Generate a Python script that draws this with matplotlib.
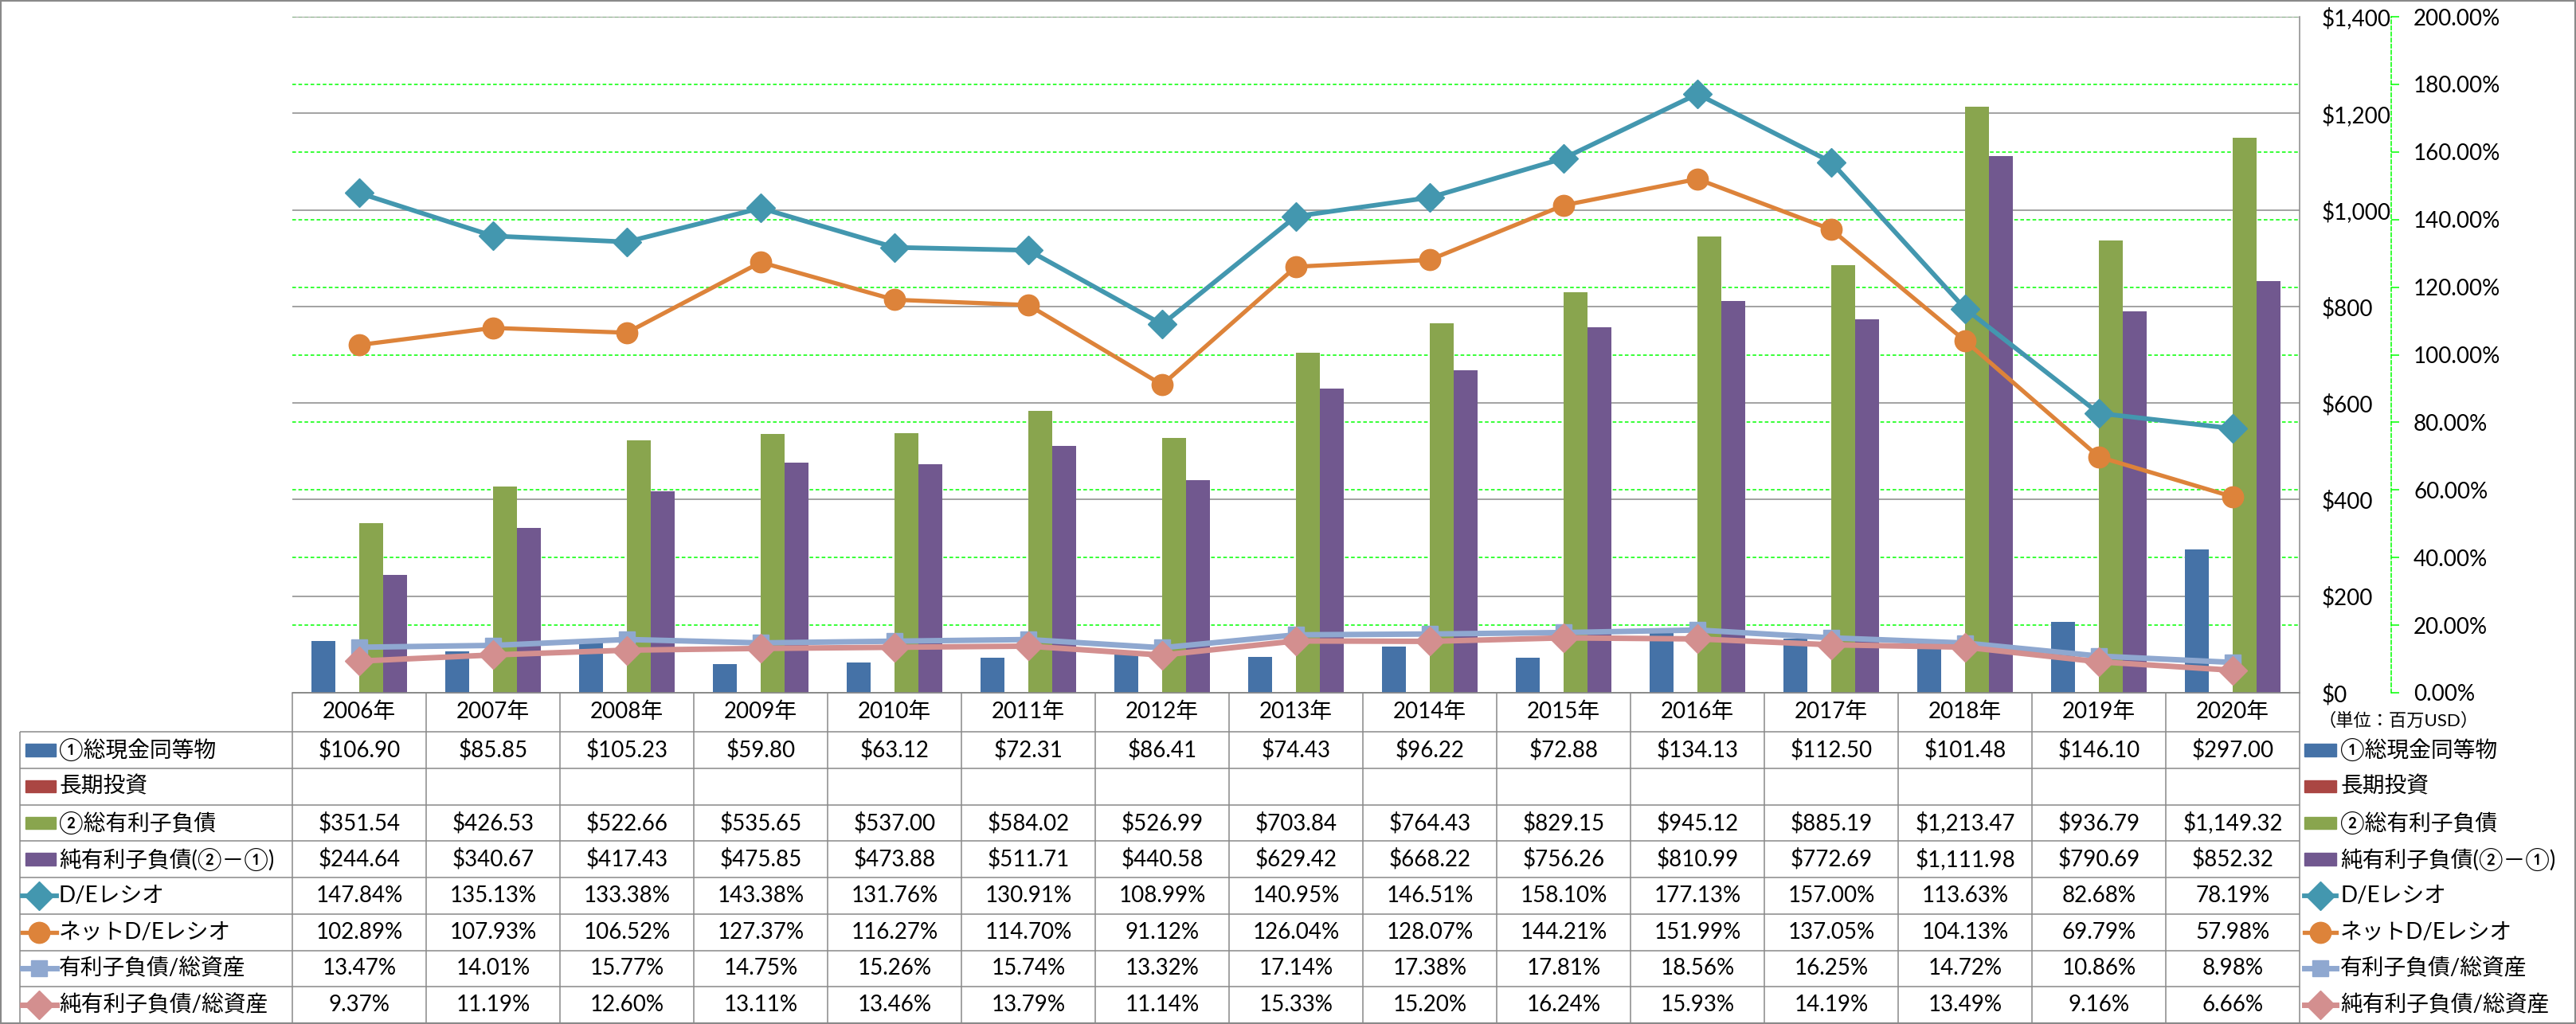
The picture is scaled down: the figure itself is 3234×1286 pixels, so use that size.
import numpy as np
import matplotlib
matplotlib.use("Agg")
import matplotlib.pyplot as plt
from matplotlib.patches import Rectangle
from matplotlib.lines import Line2D

plt.rcParams['font.family'] = ['Lato', 'Noto Sans CJK JP']

# ---- data ----
years = ['2006年', '2007年', '2008年', '2009年', '2010年', '2011年', '2012年', '2013年',
         '2014年', '2015年', '2016年', '2017年', '2018年', '2019年', '2020年']
cash = [106.90, 85.85, 105.23, 59.80, 63.12, 72.31, 86.41, 74.43, 96.22, 72.88,
        134.13, 112.50, 101.48, 146.10, 297.00]
long_inv = [np.nan] * 15
debt = [351.54, 426.53, 522.66, 535.65, 537.00, 584.02, 526.99, 703.84, 764.43, 829.15,
        945.12, 885.19, 1213.47, 936.79, 1149.32]
net_debt = [244.64, 340.67, 417.43, 475.85, 473.88, 511.71, 440.58, 629.42, 668.22, 756.26,
            810.99, 772.69, 1111.98, 790.69, 852.32]
de_ratio = [147.84, 135.13, 133.38, 143.38, 131.76, 130.91, 108.99, 140.95, 146.51, 158.10,
            177.13, 157.00, 113.63, 82.68, 78.19]
net_de = [102.89, 107.93, 106.52, 127.37, 116.27, 114.70, 91.12, 126.04, 128.07, 144.21,
          151.99, 137.05, 104.13, 69.79, 57.98]
debt_assets = [13.47, 14.01, 15.77, 14.75, 15.26, 15.74, 13.32, 17.14, 17.38, 17.81,
               18.56, 16.25, 14.72, 10.86, 8.98]
netdebt_assets = [9.37, 11.19, 12.60, 13.11, 13.46, 13.79, 11.14, 15.33, 15.20, 16.24,
                  15.93, 14.19, 13.49, 9.16, 6.66]

bar_names = ['①総現金同等物', '長期投資', '②総有利子負債', '純有利子負債(②－①)']
line_names = ['D/Eレシオ', 'ネットD/Eレシオ', '有利子負債/総資産', '純有利子負債/総資産']

# ---- styles ----
bar_colors = ['#4572A7', '#AA4643', '#89A54E', '#71588F']
line_colors = ['#4397AF', '#DD833A', '#8FA8D0', '#D38F8F']
line_markers = ['D', 'o', 's', 'D']
marker_sizes = [18, 19, 14, 18]
line_widths = [4.2, 3.8, 5.0, 5.0]
GRAY = '#898989'
GREEN = '#00FF00'
FS = 20

W, H = 3234, 1286
fig = plt.figure(figsize=(W / 100, H / 100), dpi=100)
fig.patch.set_facecolor('white')

def px(x0, y0, x1, y1):
    return [x0 / W, 1 - y1 / H, (x1 - x0) / W, (y1 - y0) / H]

x = np.arange(len(years))

ax = fig.add_axes(px(367, 21, 2887, 870))
axg = ax.twinx()
axl = ax.twinx()
axg.set_zorder(0)
ax.set_zorder(1)
axl.set_zorder(2)
ax.patch.set_visible(False)
axl.patch.set_visible(False)

# green percent grid (behind bars)
axg.set_ylim(0, 200)
axg.set_yticks(np.arange(0, 201, 20))
axg.yaxis.grid(True, color=GREEN, linestyle=(0, (3, 2)), linewidth=1.1)
axg.tick_params(axis='both', which='both', left=False, right=False,
                labelleft=False, labelright=False, bottom=False, labelbottom=False)
for s in axg.spines.values():
    s.set_visible(False)

# bars on $ axis
bw = 0.18
offs = [-0.27, -0.09, 0.09, 0.27]
for vals, off, c in zip([cash, long_inv, debt, net_debt], offs, bar_colors):
    ax.bar(x + off, vals, width=bw, color=c, zorder=2)
ax.set_xlim(-0.5, len(years) - 0.5)
ax.set_ylim(0, 1400)
ax.set_yticks(np.arange(0, 1401, 200))
ax.set_yticklabels([f'${v:,.0f}' for v in np.arange(0, 1401, 200)])
ax.yaxis.tick_right()
ax.tick_params(axis='y', length=0, pad=20, labelsize=FS)
ax.tick_params(axis='x', bottom=False, labelbottom=False)
ax.yaxis.grid(True, color=GRAY, linewidth=1.1)
ax.set_axisbelow(True)
for k in ['top', 'left']:
    ax.spines[k].set_visible(False)
ax.spines['right'].set_color(GRAY)
ax.spines['right'].set_linewidth(1.1)
ax.spines['bottom'].set_color(GRAY)
ax.spines['bottom'].set_linewidth(1.1)

# lines on % axis
for vals, c, m, ms, lw in zip([de_ratio, net_de, debt_assets, netdebt_assets],
                              line_colors, line_markers, marker_sizes, line_widths):
    axl.plot(x, vals, color=c, lw=lw, marker=m, ms=ms, mfc=c, mec=c, clip_on=False)
axl.set_ylim(0, 200)
axl.set_yticks(np.arange(0, 201, 20))
axl.set_yticklabels([f'{v:.2f}%' for v in np.arange(0, 201, 20)])
for k in ['top', 'left', 'bottom']:
    axl.spines[k].set_visible(False)
axl.spines['right'].set_position(('outward', 83))
axl.spines['right'].set_color(GREEN)
axl.spines['right'].set_linestyle((0, (3, 2)))
axl.spines['right'].set_linewidth(1.1)
axl.tick_params(axis='y', color=GREEN, length=7, width=1.1, pad=13,
                labelcolor='black', labelsize=FS)

# ---- data table ----
hdr = 49 / 45.75
tab = fig.add_axes(px(367, 870, 2887, 1285), sharex=ax)
tab.set_ylim(8, -hdr)
tab.axis('off')
xl = -0.5 - (367 - 25) / 168.0
n = len(years)
tab.hlines(-hdr, -0.5, n - 0.5, color=GRAY, lw=1.1, clip_on=False)
tab.hlines(np.arange(0, 9), xl, n - 0.5, color=GRAY, lw=1.1, clip_on=False)
tab.vlines(np.arange(n + 1) - 0.5, -hdr, 8, color=GRAY, lw=1.1, clip_on=False)
tab.vlines(xl, 0, 8, color=GRAY, lw=1.1, clip_on=False)

for i, y in enumerate(years):
    tab.text(i, -hdr / 2, y, ha='center', va='center', fontsize=FS)

rows = [[f'${v:,.2f}' for v in cash],
        ['' for v in long_inv],
        [f'${v:,.2f}' for v in debt],
        [f'${v:,.2f}' for v in net_debt],
        [f'{v:.2f}%' for v in de_ratio],
        [f'{v:.2f}%' for v in net_de],
        [f'{v:.2f}%' for v in debt_assets],
        [f'{v:.2f}%' for v in netdebt_assets]]
for r, row in enumerate(rows):
    for i, s in enumerate(row):
        tab.text(i, r + 0.5, s, ha='center', va='center', fontsize=FS)

names = bar_names + line_names

def legend_key(ax_, x0, x1, y, idx):
    if idx < 4:
        ax_.add_patch(Rectangle((x0, y - 0.17), x1 - x0, 0.34, color=bar_colors[idx],
                                clip_on=False))
    else:
        j = idx - 4
        ax_.add_line(Line2D([x0, (x0 + x1) / 2, x1], [y, y, y], color=line_colors[j],
                            lw=line_widths[j], marker=line_markers[j], markevery=[1],
                            ms=marker_sizes[j], mfc=line_colors[j], mec=line_colors[j],
                            clip_on=False))

for r, nm in enumerate(names):
    yc = r + 0.5
    if r >= 4:
        legend_key(tab, xl + 3 / 168.0, xl + 46 / 168.0, yc, r)
    else:
        legend_key(tab, xl + 7 / 168.0, xl + 45 / 168.0, yc, r)
    tab.text(xl + 49 / 168.0, yc, nm, ha='left', va='center', fontsize=FS, clip_on=False)
    # right legend
    legend_key(tab, n - 0.5 + 6 / 168.0, n - 0.5 + 46 / 168.0, yc, r)
    tab.text(n - 0.5 + 51 / 168.0, yc, nm, ha='left', va='center', fontsize=FS, clip_on=False)

tab.text(n - 0.5 + 23 / 168.0, -hdr + 35 / 45.75, '（単位：百万USD）', ha='left', va='center',
         fontsize=16, clip_on=False)

# outer border
fig.patches.append(Rectangle((0, 0), 1, 1, transform=fig.transFigure, fill=False,
                             edgecolor='#8a8a8a', lw=3))

fig.savefig('out.png', dpi=100, facecolor='white')
